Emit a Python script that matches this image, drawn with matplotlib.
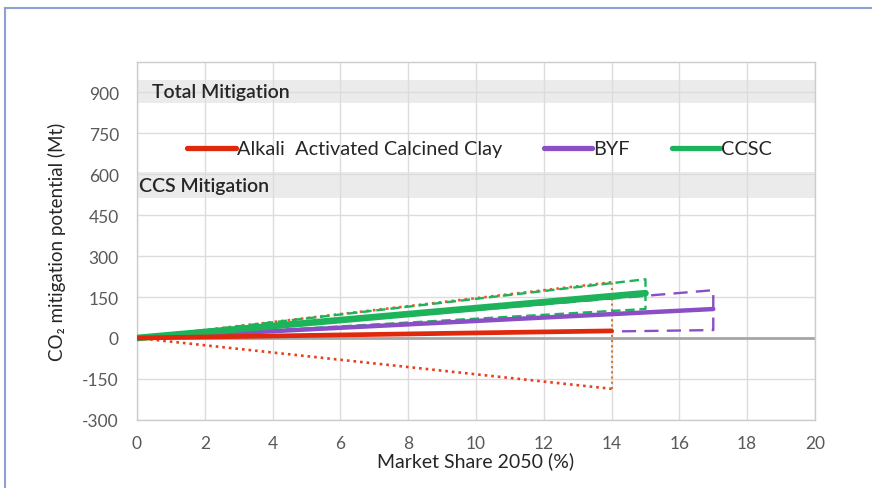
import matplotlib
matplotlib.use("Agg")
import matplotlib.pyplot as plt
from matplotlib.lines import Line2D

plt.rcParams['font.family'] = ['Lato', 'DejaVu Sans']
plt.rcParams['axes.unicode_minus'] = False

# ---- data ----
series = ["Alkali  Activated Calcined Clay", "BYF", "CCSC"]
share_end = [14, 17, 15]          # market share 2050 (%) at end of each line
mid_end = [26, 106, 164]          # central mitigation (Mt)
high_end = [204, 175, 215]        # upper bound (Mt)
low_end = [-186, 29, 106]         # lower bound (Mt)
colors = ["#e0280c", "#8a4fc4", "#1db35a"]
bands = {"Total Mitigation": (860, 944), "CCS Mitigation": (513, 608)}
xticks = list(range(0, 21, 2))
yticks = list(range(-300, 901, 150))

fig = plt.figure(figsize=(8.72, 4.89), dpi=100)
ax = fig.add_axes([0.1571, 0.1391, 0.7775, 0.7321])

# figure frame (top & left)
fig.add_artist(Line2D([0.0057, 1.0], [0.9816, 0.9816], transform=fig.transFigure,
                      color="#8e9fd3", lw=1.5))
fig.add_artist(Line2D([0.0057, 0.0057], [0.0, 0.9816], transform=fig.transFigure,
                      color="#8e9fd3", lw=1.5))

ax.set_xlim(0, 20)
ax.set_ylim(-300, 1010)
ax.set_xticks(xticks)
ax.set_yticks(yticks)
ax.grid(True, color="#dcdcdc", lw=1)
ax.set_axisbelow(True)
for s in ax.spines.values():
    s.set_color("#cccccc")
    s.set_linewidth(1)
ax.tick_params(length=0, labelsize=12.5, labelcolor="#595959")
ax.tick_params(axis="x", pad=11)
ax.tick_params(axis="y", pad=13)

# bands
for (name, (lo, hi)) in bands.items():
    ax.axhspan(lo, hi, color="#ebebeb", zorder=0.5, lw=0)
ax.text(0.45, 902, "Total Mitigation", fontsize=14, color="#262626",
        va="center", ha="left", fontweight="semibold")
ax.text(0.06, 557, "CCS Mitigation", fontsize=14, color="#262626",
        va="center", ha="left", fontweight="semibold")

ax.axhline(0, color="#a6a6a6", lw=2, zorder=1)

# uncertainty envelopes
# red (dotted)
i = 0
ax.plot([0, share_end[i]], [0, high_end[i]], ls=(0, (1, 1.5)), color="#ec5a2a", lw=1.9, zorder=2)
ax.plot([0, share_end[i]], [0, low_end[i]], ls=(0, (1, 1.5)), color="#e8401c", lw=1.9, zorder=2)
ax.plot([share_end[i], share_end[i]], [low_end[i], high_end[i]], ls=(0, (1, 1.5)),
        color="#cf7a35", lw=1.5, zorder=2)
# purple (dashed)
i = 1
ax.plot([0, share_end[i], share_end[i], 0], [0, high_end[i], low_end[i], 0],
        ls=(0, (6, 3.5)), color=colors[i], lw=1.7, zorder=3)
# green (dashed)
i = 2
ax.plot([0, share_end[i], share_end[i], 0], [0, high_end[i], low_end[i], 0],
        ls=(0, (4, 2)), color=colors[i], lw=1.7, zorder=3)

# central lines
lws = [3.4, 3.2, 4.8]
zs = [5, 4, 4.5]
handles = []
for i in range(3):
    ax.plot([0, share_end[i]], [0, mid_end[i]], color=colors[i], lw=lws[i],
            solid_capstyle="round", zorder=zs[i])
    handles.append(Line2D([0], [0], color=colors[i], lw=3.8, solid_capstyle="round"))

ax.legend(handles, series, loc="center left", bbox_to_anchor=(0.074, 0.757),
          ncol=3, frameon=False, fontsize=14.3, handlelength=2.45, handletextpad=0.05,
          columnspacing=2.1, borderpad=0, borderaxespad=0, labelcolor="#262626")

ax.set_xlabel("Market Share 2050 (%)", fontsize=14, color="#262626", labelpad=0)
ax.set_ylabel("CO₂ mitigation potential (Mt)", fontsize=13.5, color="#262626", labelpad=12)

fig.savefig("out.png", dpi=100)
